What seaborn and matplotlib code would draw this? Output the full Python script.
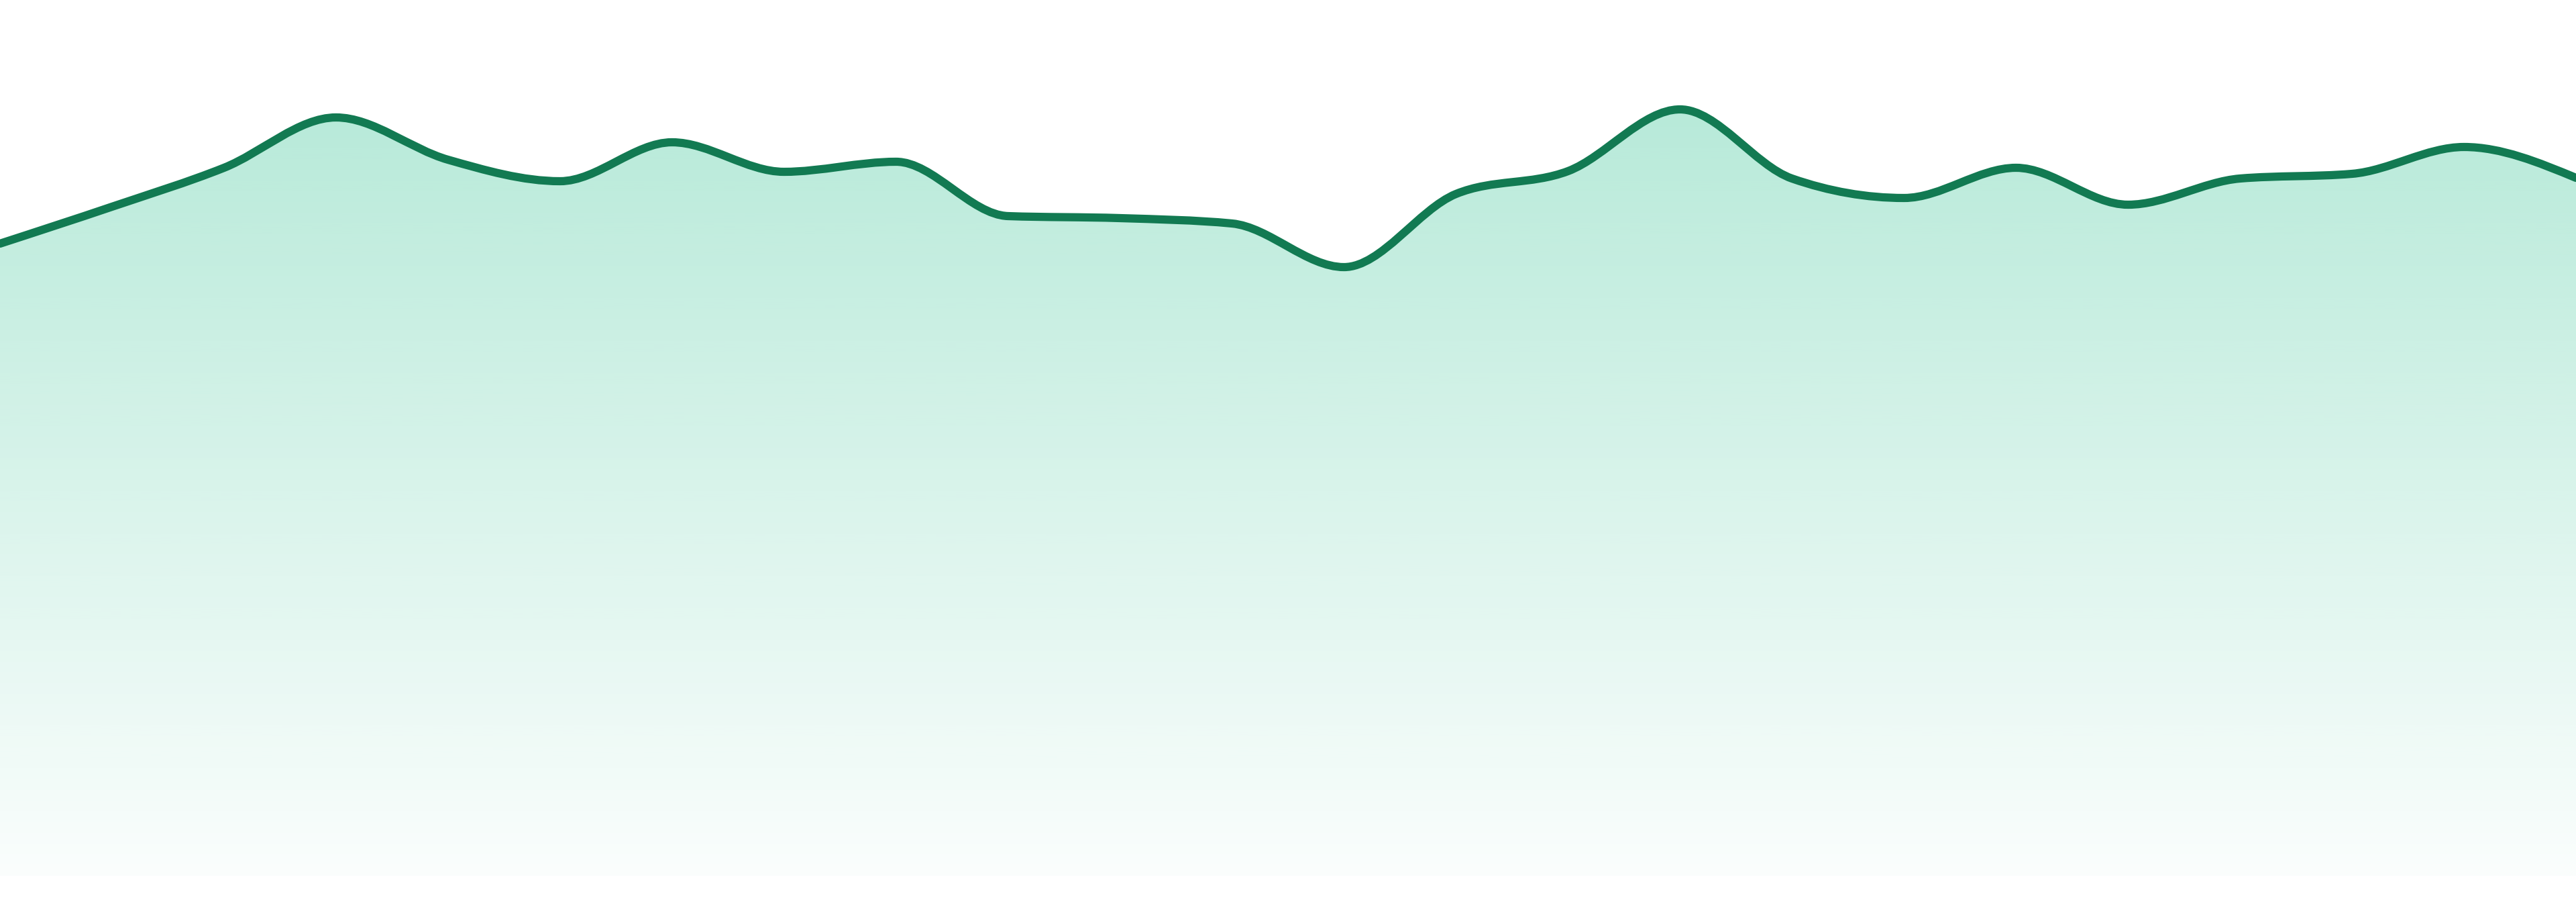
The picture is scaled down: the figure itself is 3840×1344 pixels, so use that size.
import numpy as np
import matplotlib

matplotlib.use("Agg")
import matplotlib.pyplot as plt
import matplotlib.colors as mcolors
from matplotlib.path import Path
from matplotlib.patches import PathPatch
import seaborn as sns

# data (24 evenly spaced points, arbitrary units)
periods = list(range(24))
values = [94.2, 99.7, 105.5, 113.0, 106.7, 103.5, 109.3, 104.9,
          106.4, 98.3, 98.0, 97.2, 90.7, 101.6, 105.0, 114.2,
          103.9, 101.0, 105.5, 100.0, 103.9, 104.6, 108.6, 104.0]

LINE_COLOR = '#127a52'
FILL_COLOR = '#10b981'

sns.set_theme(style="white")


def monotone_tangents(x, y):
    """Slopes like d3.curveMonotoneX (Fritsch-Carlson style)."""
    x = np.asarray(x, dtype=float)
    y = np.asarray(y, dtype=float)
    n = len(x)
    h = np.diff(x)
    s = np.diff(y) / h
    t = np.zeros(n)
    for i in range(1, n - 1):
        h0, h1 = h[i - 1], h[i]
        s0, s1 = s[i - 1], s[i]
        p = (s0 * h1 + s1 * h0) / (h0 + h1)
        t[i] = (np.sign(s0) + np.sign(s1)) * min(abs(s0), abs(s1), 0.5 * abs(p))
    t[0] = (3 * s[0] - t[1]) / 2
    t[-1] = (3 * s[-1] - t[-2]) / 2
    return t


def curve_path(x, y, base=None):
    # cubic bezier segments through the data points (rendered by matplotlib)
    t = monotone_tangents(x, y)
    verts = []
    codes = []
    if base is not None:
        verts.append((x[0], base))
        codes.append(Path.MOVETO)
        verts.append((x[0], y[0]))
        codes.append(Path.LINETO)
    else:
        verts.append((x[0], y[0]))
        codes.append(Path.MOVETO)
    for i in range(len(x) - 1):
        dx = (x[i + 1] - x[i]) / 3
        verts += [(x[i] + dx, y[i] + dx * t[i]),
                  (x[i + 1] - dx, y[i + 1] - dx * t[i + 1]),
                  (x[i + 1], y[i + 1])]
        codes += [Path.CURVE4] * 3
    if base is not None:
        verts.append((x[-1], base))
        codes.append(Path.LINETO)
        verts.append((x[0], base))
        codes.append(Path.CLOSEPOLY)
    return Path(verts, codes)


fig = plt.figure(figsize=(19.2, 6.72), dpi=200)
ax = fig.add_axes([0, 0, 1, 1])

# area with vertical gradient
area = PathPatch(curve_path(periods, values, base=0), facecolor='none',
                 edgecolor='none', transform=ax.transData)
ax.add_patch(area)

rgb = mcolors.to_rgb(FILL_COLOR)
grad = np.zeros((256, 1, 4))
grad[:, 0, :3] = rgb
grad[:, 0, 3] = np.linspace(0.02, 0.30, 256)
im = ax.imshow(grad, extent=[periods[0], periods[-1], 0, max(values)],
               origin='lower', aspect='auto', interpolation='bicubic', zorder=1)
im.set_clip_path(area)

# line on top
line = PathPatch(curve_path(periods, values), facecolor='none',
                 edgecolor=LINE_COLOR, linewidth=4.4, capstyle='round',
                 joinstyle='round', transform=ax.transData, zorder=3)
ax.add_patch(line)

ax.set_xlim(periods[0], periods[-1])
ax.set_ylim(-3.9, 130.5)
ax.set_axis_off()
sns.despine(ax=ax, left=True, bottom=True)

fig.savefig('out.png', dpi=200, facecolor='white')
plt.close(fig)
